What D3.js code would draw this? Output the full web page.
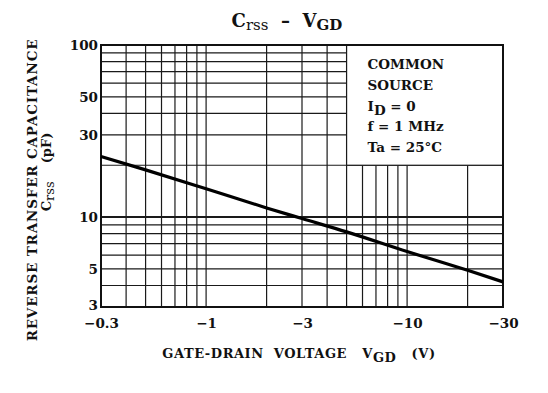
<!DOCTYPE html>
<html>
<head>
<meta charset="utf-8">
<script src="https://cdn.jsdelivr.net/npm/d3@7"></script>
<style>
  body { margin: 0; background: #fff; }
  text { font-family: "DejaVu Serif", "Liberation Serif", serif; font-weight: bold; fill: #111; white-space: pre; }
</style>
</head>
<body>
<div id="chart"></div>
<script>
// curve (|VGD| in V, Crss in pF)
var vgd = [0.3, 0.5, 1, 2, 3, 5, 10, 20, 30];
var crss = [22.5, 18.8, 14.6, 11.3, 9.8, 8.2, 6.3, 4.9, 4.2];

var xTicks = [0.3, 1, 3, 10, 30];
var yTicks = [3, 5, 10, 30, 50, 100];
var xGrid = [0.4, 0.5, 0.6, 0.7, 0.8, 0.9, 1, 2, 3, 4, 5, 6, 7, 8, 9, 10, 20];
var yGrid = [4, 5, 6, 7, 8, 9, 10, 20, 30, 40, 50, 60, 70, 80, 90];
var notes = ["COMMON", "SOURCE", "ID = 0", "f = 1 MHz", "Ta = 25°C"];

var W = 548, H = 393;
var margin = {top: 45, right: 45, bottom: 86, left: 101};
var width = W - margin.left - margin.right,
    height = H - margin.top - margin.bottom;

var svg = d3.select("#chart")
    .append("svg")
    .attr("width", W)
    .attr("height", H);

var g = svg.append("g")
    .attr("transform", "translate(" + margin.left + "," + margin.top + ")");

var x = d3.scaleLog().domain([0.3, 30]).range([0, width]);
var y = d3.scaleLog().domain([3, 100]).range([height, 0]);

// grid
g.selectAll(".vg")
  .data(xGrid)
  .enter()
  .append("line")
    .attr("x1", d => x(d)).attr("x2", d => x(d))
    .attr("y1", 0).attr("y2", height)
    .attr("stroke", "#1a1a1a")
    .attr("stroke-width", 1.2);

g.selectAll(".hg")
  .data(yGrid)
  .enter()
  .append("line")
    .attr("x1", 0).attr("x2", width)
    .attr("y1", d => y(d)).attr("y2", d => y(d))
    .attr("stroke", "#1a1a1a")
    .attr("stroke-width", d => d == 10 ? 2 : 1.2);

// note box covers the grid in the top right corner
g.append("rect")
    .attr("x", x(5))
    .attr("y", 0)
    .attr("width", width - x(5))
    .attr("height", y(20))
    .attr("fill", "#fff")
    .attr("stroke", "#1a1a1a")
    .attr("stroke-width", 1.2);

var noteText = g.append("text")
    .style("font-size", "13.5px");
notes.forEach(function(s, i) {
  var t = noteText.append("tspan")
      .attr("x", x(5) + 21)
      .attr("y", 24 + i * 20.8);
  if (s.indexOf("ID") == 0) {
    t.text("I");
    t.append("tspan").attr("dy", 4).text("D");
    t.append("tspan").attr("dy", -4).text(" = 0");
  } else {
    t.text(s);
  }
});

// frame
g.append("rect")
    .attr("width", width)
    .attr("height", height)
    .attr("fill", "none")
    .attr("stroke", "#111")
    .attr("stroke-width", 2);

// curve
var line = d3.line()
    .x((d, i) => x(vgd[i]))
    .y(d => y(d))
    .curve(d3.curveMonotoneX);

g.append("path")
    .datum(crss)
    .attr("d", line)
    .attr("fill", "none")
    .attr("stroke", "#000")
    .attr("stroke-width", 3.2);

// axes labels
g.append("g")
    .attr("transform", "translate(0," + height + ")")
    .call(d3.axisBottom(x).tickValues(xTicks).tickSize(0).tickPadding(11)
        .tickFormat(d => "\u2212" + d))
    .call(a => a.select(".domain").remove())
    .selectAll("text")
    .style("font-size", "13.5px")
    .attr("font-family", null);

g.append("g")
    .call(d3.axisLeft(y).tickValues(yTicks).tickSize(0).tickPadding(3)
        .tickFormat(d => d))
    .call(a => a.select(".domain").remove())
    .selectAll("text")
    .style("font-size", "13.5px")
    .attr("font-family", null)
    .attr("dy", d => d == 3 ? "0.2em" : "0.32em");

// title
var title = svg.append("text")
    .attr("x", 287)
    .attr("y", 27)
    .attr("text-anchor", "middle")
    .style("font-size", "18px");
title.append("tspan").text("C");
title.append("tspan").attr("dy", 3).style("font-size", "15px").style("font-weight", "normal").text("rss");
title.append("tspan").attr("dy", -3).text("  \u2013  V");
title.append("tspan").attr("dy", 3).style("font-size", "15px").text("GD");

// x title
var xt = svg.append("text")
    .attr("x", 299)
    .attr("y", 358)
    .attr("text-anchor", "middle")
    .style("font-size", "13px")
    .style("letter-spacing", "0.55px");
xt.append("tspan").text("GATE-DRAIN  VOLTAGE   V");
xt.append("tspan").attr("dy", 4).text("GD");
xt.append("tspan").attr("dy", -4).text("   (V)");

// y title
svg.append("text")
    .attr("transform", "translate(37,190) rotate(-90)")
    .attr("text-anchor", "middle")
    .style("font-size", "13.5px")
    .style("letter-spacing", "0.85px")
    .text("REVERSE TRANSFER CAPACITANCE");

var yt = svg.append("text")
    .attr("transform", "translate(51,172) rotate(-90)")
    .attr("text-anchor", "middle")
    .style("font-size", "13px");
yt.append("tspan").text("C");
yt.append("tspan").attr("dy", 3).style("font-weight", "normal").text("rss");
yt.append("tspan").attr("dy", -3).text("    (pF)");
</script>
</body>
</html>
